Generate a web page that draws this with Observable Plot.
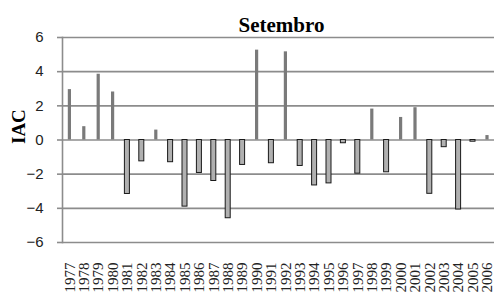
<!DOCTYPE html>
<html>
<head>
<meta charset="utf-8">
<script src="https://cdn.jsdelivr.net/npm/d3@7"></script>
<script src="https://cdn.jsdelivr.net/npm/@observablehq/plot@0.6"></script>
<style>
  html, body { margin: 0; padding: 0; background: #fff; }
  #chart svg { display: block; }
</style>
</head>
<body>
<div id="chart"></div>
<script>
const title = "Setembro";
const yLabel = "IAC";
const years = ["1977","1978","1979","1980","1981","1982","1983","1984","1985","1986",
               "1987","1988","1989","1990","1991","1992","1993","1994","1995","1996",
               "1997","1998","1999","2000","2001","2002","2003","2004","2005","2006"];
const iac = [2.95, 0.78, 3.85, 2.81, -3.16, -1.25, 0.58, -1.3, -3.9, -1.93,
             -2.4, -4.58, -1.46, 5.26, -1.36, 5.16, -1.52, -2.66, -2.54, -0.19,
             -1.97, 1.81, -1.89, 1.32, 1.89, -3.15, -0.42, -4.07, -0.1, 0.26];
const yTicks = [-6, -4, -2, 0, 2, 4, 6];

const data = years.map((y, i) => ({year: y, v: iac[i]}));
const pos = data.filter(d => d.v >= 0);
const neg = data.filter(d => d.v < 0);

const gridColor = "#8c8c8c";

const chart = Plot.plot({
  width: 495,
  height: 298,
  marginLeft: 62,
  marginRight: 1,
  marginTop: 37,
  marginBottom: 56,
  style: {background: "#fff"},
  x: {domain: years, padding: 0, round: false, label: null},
  y: {domain: [-6, 6], label: null},
  marks: [
    Plot.gridY(yTicks, {stroke: gridColor, strokeOpacity: 1, strokeWidth: 1.6}),
    Plot.frame({anchor: "left", stroke: gridColor, strokeWidth: 1.6}),
    Plot.axisY(yTicks, {
      tickSize: 5, tickPadding: 14, stroke: gridColor, strokeWidth: 1.6,
      fontSize: 15, fontFamily: "Liberation Sans, Arial, sans-serif", fill: "#222",
      label: null
    }),
    Plot.axisX({
      tickSize: 0, tickRotate: -90, tickPadding: 20,
      fontSize: 15, fontFamily: "Liberation Serif, Times New Roman, serif",
      fill: "#222", label: null, style: {letterSpacing: "1.6px"}
    }),
    Plot.barY(pos, {x: "year", y: "v", fill: "#7a7a7a", insetLeft: 5.8, insetRight: 5.4}),
    Plot.barY(neg, {x: "year", y: "v", fill: "#b0b0b0", stroke: "#1a1a1a", strokeWidth: 1, insetLeft: 4.8, insetRight: 4.6}),
    Plot.text([title], {
      frameAnchor: "top", dy: -20, dx: 3,
      fontSize: 21, fontWeight: "bold", fontFamily: "Liberation Serif, Times New Roman, serif",
      fill: "#000", style: {letterSpacing: "2px"}
    }),
    Plot.text([yLabel], {
      frameAnchor: "left", dx: -44, dy: 4, rotate: -90,
      fontSize: 19, fontWeight: "bold", fontFamily: "Liberation Serif, Times New Roman, serif",
      fill: "#000", style: {letterSpacing: "4px"}
    })
  ]
});
document.getElementById("chart").appendChild(chart);
</script>
</body>
</html>
